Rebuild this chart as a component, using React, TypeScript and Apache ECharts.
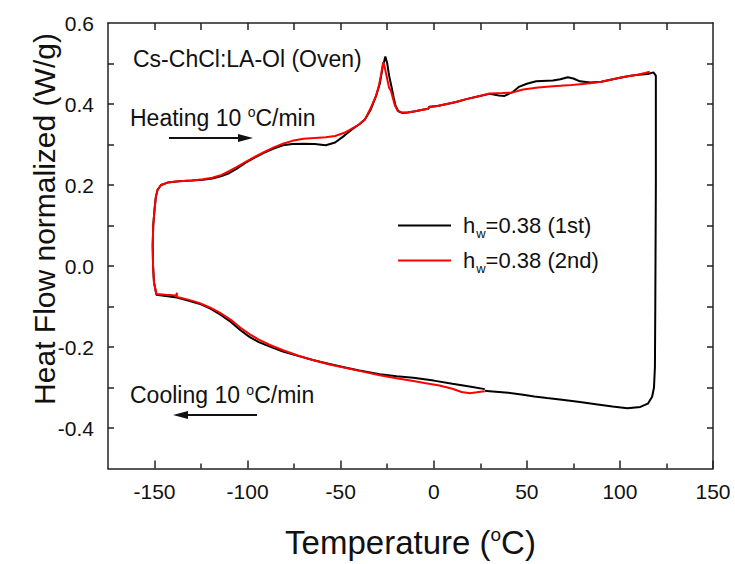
import React, { useEffect, useRef } from "react";
import * as echarts from "echarts";

// Temperature (°C), heat flow (W/g) pairs
const blackCooling1: number[][] = [
  [27.4, -0.304], [20, -0.298], [10, -0.291], [0, -0.283], [-11, -0.276], [-20, -0.272],
  [-29, -0.267], [-40, -0.258], [-47, -0.251], [-56, -0.242], [-65, -0.232], [-73, -0.222],
  [-81, -0.211], [-88, -0.199], [-94, -0.188], [-99, -0.175], [-104, -0.158], [-109, -0.138],
  [-115, -0.119], [-120, -0.105], [-126, -0.093], [-132, -0.085], [-138, -0.078], [-144, -0.074],
  [-149, -0.071],
];
const blackHeating: number[][] = [
  [-149, -0.071], [-150.3, -0.04], [-150.8, 0.0], [-151, 0.05], [-150.7, 0.1], [-150, 0.14],
  [-149.3, 0.17], [-148.4, 0.188], [-146.5, 0.2], [-143, 0.206], [-137, 0.209], [-130, 0.211],
  [-124, 0.213], [-119, 0.216], [-114, 0.222], [-110, 0.229], [-106, 0.24], [-101, 0.255],
  [-96, 0.268], [-91, 0.28], [-86, 0.29], [-81, 0.298], [-76, 0.301], [-70, 0.302],
  [-64, 0.301], [-58, 0.298], [-53, 0.305], [-48, 0.322], [-44, 0.337], [-40, 0.35],
  [-37, 0.362], [-34, 0.385], [-31, 0.42], [-29, 0.45], [-27.5, 0.49], [-26, 0.517],
  [-25, 0.5], [-24, 0.47], [-22.6, 0.44], [-21.5, 0.415], [-20.5, 0.395], [-19, 0.382],
  [-17, 0.378], [-14, 0.379], [-10, 0.382], [-6, 0.386], [-3, 0.388], [-2.5, 0.393],
  [2, 0.395], [7, 0.4], [12, 0.405], [17.5, 0.412], [23, 0.418], [30, 0.425],
  [35, 0.421], [38, 0.42], [42.6, 0.43], [46, 0.443], [50, 0.45], [55, 0.456],
  [64, 0.458], [68, 0.461], [72, 0.466], [75, 0.463], [78.5, 0.456], [84, 0.453],
  [90, 0.455], [95, 0.46], [100, 0.465], [105, 0.469], [110, 0.472], [115, 0.474],
  [118, 0.478],
];
const blackCooling2: number[][] = [
  [118, 0.478], [119.3, 0.47], [119.3, 0.2], [119, -0.1], [118.8, -0.25], [118.3, -0.3],
  [117.3, -0.323], [115, -0.34], [111, -0.348], [104, -0.351], [96, -0.347], [88, -0.342],
  [78.5, -0.336], [70, -0.331], [60.8, -0.326], [54, -0.322], [48, -0.318], [40, -0.313],
  [30, -0.309], [27.4, -0.308],
];
const redCooling: number[][] = [
  [27.4, -0.309], [23, -0.312], [19.4, -0.314], [15, -0.311], [10, -0.303], [3, -0.295],
  [-5, -0.289], [-11, -0.284], [-20, -0.277], [-29, -0.27], [-40, -0.259], [-47, -0.252],
  [-56, -0.243], [-65, -0.232], [-73, -0.221], [-81, -0.208], [-88, -0.195], [-94, -0.182],
  [-99, -0.168], [-104, -0.152], [-109, -0.133], [-115, -0.115], [-120, -0.103], [-126, -0.091],
  [-132, -0.083], [-136.6, -0.078], [-138, -0.076], [-138, -0.066], [-138.3, -0.073],
  [-144, -0.071], [-149, -0.069],
];
const redHeating: number[][] = [
  [-149, -0.069], [-150.3, -0.04], [-150.8, 0.0], [-151, 0.05], [-150.7, 0.1], [-150, 0.14],
  [-149.3, 0.17], [-148.4, 0.188], [-146.5, 0.2], [-143, 0.206], [-137, 0.209], [-130, 0.211],
  [-124, 0.214], [-119, 0.218], [-114, 0.225], [-110, 0.234], [-106, 0.244], [-101, 0.257],
  [-96, 0.27], [-91, 0.282], [-86, 0.293], [-81, 0.302], [-76, 0.309], [-70, 0.314],
  [-64, 0.316], [-58, 0.318], [-53, 0.321], [-48, 0.329], [-44, 0.339], [-40, 0.35],
  [-37, 0.362], [-34.4, 0.385], [-31, 0.42], [-29.5, 0.445], [-28.2, 0.475], [-27.2, 0.503],
  [-26.3, 0.49], [-25.3, 0.468], [-24, 0.44], [-23, 0.432], [-21, 0.398], [-19.4, 0.383],
  [-17, 0.379], [-14, 0.379], [-10, 0.382], [-6, 0.386], [-3, 0.388], [-2.5, 0.392],
  [2, 0.395], [7, 0.4], [12, 0.405], [17.5, 0.412], [23, 0.418], [30, 0.426],
  [37, 0.427], [42, 0.428], [48, 0.436], [56, 0.441], [64, 0.444], [72, 0.446],
  [78.5, 0.449], [84, 0.451], [90, 0.455], [95, 0.46], [100, 0.465], [105, 0.469],
  [110, 0.473], [114, 0.477], [116, 0.48],
];

const xMajorTicks = [-150, -100, -50, 0, 50, 100, 150];
const xMinorTicks = [-125, -75, -25, 25, 75, 125];
const xTopTicks = [-150, -125, -100, -75, -50, -25, 0, 25, 50, 75, 100, 125];
const yLabels = [-0.4, -0.2, 0.0, 0.2, 0.4, 0.6];
const yTicks = [-0.4, -0.3, -0.2, -0.1, 0.0, 0.1, 0.2, 0.3, 0.4, 0.5];

const seriesNames = ["hw=0.38 (1st)", "hw=0.38 (2nd)"];
const legendLabels: Record<string, string> = {
  "hw=0.38 (1st)": "h{sub|w}=0.38 (1st)",
  "hw=0.38 (2nd)": "h{sub|w}=0.38 (2nd)",
};

const FONT = "'Liberation Sans', Arial, Helvetica, sans-serif";
const AXIS_COLOR = "#222";

export default function App() {
  const ref = useRef<HTMLDivElement>(null);
  useEffect(() => {
    document.body.style.margin = "0";
    if (!ref.current) return;
    const chart = echarts.init(ref.current, null, { renderer: "svg" });
    const lineOn = { show: true, onZero: false, lineStyle: { color: AXIS_COLOR, width: 1.5 } };
    const lineOff = { show: false, onZero: false };
    const option: any = {
      animation: false,
      backgroundColor: "#fff",
      textStyle: { fontFamily: FONT },
      grid: { left: 108, right: 22, top: 23, bottom: 92 },
      legend: {
        left: 398,
        top: 211,
        orient: "vertical",
        padding: 0,
        icon: "rect",
        itemWidth: 53,
        itemHeight: 2,
        itemGap: 6,
        data: seriesNames,
        formatter: (name: string) => legendLabels[name] || name,
        textStyle: {
          fontFamily: FONT,
          fontSize: 22,
          color: "#111",
          lineHeight: 24,
          padding: [0, 0, 0, 7],
          rich: {
            sub: { fontSize: 13, lineHeight: 13, padding: [16, 0, 0, 1], fontFamily: FONT, color: "#111" },
          },
        },
      },
      xAxis: [
        {
          type: "value",
          position: "bottom",
          min: -175,
          max: 150,
          splitLine: { show: false },
          axisLine: lineOn,
          axisTick: { show: true, inside: true, length: 8, customValues: xMajorTicks, lineStyle: { color: AXIS_COLOR, width: 1.5 } },
          axisLabel: { customValues: xMajorTicks, fontSize: 21, color: "#111", margin: 12, fontFamily: FONT },
          name: "Temperature ({sup|o}C)",
          nameLocation: "middle",
          nameGap: 56,
          nameTextStyle: {
            fontSize: 33,
            color: "#111",
            fontFamily: FONT,
            rich: { sup: { fontSize: 19, padding: [0, 0, 17, 0], fontFamily: FONT, color: "#111" } },
          },
        },
        {
          type: "value",
          position: "bottom",
          min: -175,
          max: 150,
          splitLine: { show: false },
          axisLine: lineOff,
          axisTick: { show: true, inside: true, length: 5, customValues: xMinorTicks, lineStyle: { color: AXIS_COLOR, width: 1.5 } },
          axisLabel: { show: false },
        },
        {
          type: "value",
          position: "top",
          min: -175,
          max: 150,
          splitLine: { show: false },
          axisLine: lineOn,
          axisTick: { show: true, inside: true, length: 7, customValues: xTopTicks, lineStyle: { color: AXIS_COLOR, width: 1.5 } },
          axisLabel: { show: false },
        },
      ],
      yAxis: [
        {
          type: "value",
          position: "left",
          min: -0.5,
          max: 0.6,
          splitLine: { show: false },
          axisLine: lineOn,
          axisTick: { show: true, inside: true, length: 6, customValues: yTicks, lineStyle: { color: AXIS_COLOR, width: 1.5 } },
          axisLabel: {
            customValues: yLabels,
            formatter: (v: number) => v.toFixed(1),
            fontSize: 21,
            color: "#111",
            margin: 14,
            fontFamily: FONT,
          },
        },
        {
          type: "value",
          position: "right",
          min: -0.5,
          max: 0.6,
          splitLine: { show: false },
          axisLine: lineOn,
          axisTick: { show: true, inside: true, length: 6, customValues: yTicks, lineStyle: { color: AXIS_COLOR, width: 1.5 } },
          axisLabel: { show: false },
        },
      ],
      series: [
        {
          name: seriesNames[0],
          type: "line",
          xAxisIndex: 0,
          yAxisIndex: 0,
          symbol: "none",
          lineStyle: { color: "#000", width: 2 },
          itemStyle: { color: "#000" },
          data: [...blackCooling1, ...blackHeating, ...blackCooling2],
        },
        {
          name: seriesNames[1],
          type: "line",
          xAxisIndex: 0,
          yAxisIndex: 0,
          symbol: "none",
          lineStyle: { color: "#ff0000", width: 2 },
          itemStyle: { color: "#ff0000" },
          data: [...redCooling, ...redHeating],
        },
      ],
      graphic: [
        {
          type: "text",
          x: 44,
          y: 219,
          rotation: Math.PI / 2,
          style: {
            text: "Heat Flow normalized (W/g)",
            fontSize: 30,
            fontFamily: FONT,
            fill: "#111",
            align: "center",
            verticalAlign: "middle",
          },
        },
        {
          type: "text",
          x: 133,
          y: 58.5,
          style: {
            text: "Cs-ChCl:LA-Ol (Oven)",
            fontSize: 23,
            fontFamily: FONT,
            fill: "#111",
            align: "left",
            verticalAlign: "middle",
          },
        },
        {
          type: "text",
          x: 130,
          y: 117.5,
          style: {
            text: "Heating 10 {sup|o}C/min",
            fontSize: 23,
            fontFamily: FONT,
            fill: "#111",
            align: "left",
            verticalAlign: "middle",
            rich: { sup: { fontSize: 14, padding: [0, 0, 11, 0], fontFamily: FONT, fill: "#111" } },
          },
        },
        {
          type: "text",
          x: 130,
          y: 395,
          style: {
            text: "Cooling 10 {sup|o}C/min",
            fontSize: 23,
            fontFamily: FONT,
            fill: "#111",
            align: "left",
            verticalAlign: "middle",
            rich: { sup: { fontSize: 14, padding: [0, 0, 11, 0], fontFamily: FONT, fill: "#111" } },
          },
        },
        {
          type: "line",
          shape: { x1: 169, y1: 138, x2: 243, y2: 138 },
          style: { stroke: "#111", lineWidth: 2 },
        },
        {
          type: "polygon",
          shape: { points: [[253, 138], [238, 134], [238, 142]] },
          style: { fill: "#111" },
        },
        {
          type: "line",
          shape: { x1: 183, y1: 415, x2: 257, y2: 415 },
          style: { stroke: "#111", lineWidth: 2 },
        },
        {
          type: "polygon",
          shape: { points: [[173, 415], [188, 411], [188, 419]] },
          style: { fill: "#111" },
        },
      ],
    };
    chart.setOption(option);
    return () => chart.dispose();
  }, []);
  return <div ref={ref} style={{ width: 735, height: 564 }} />;
}
